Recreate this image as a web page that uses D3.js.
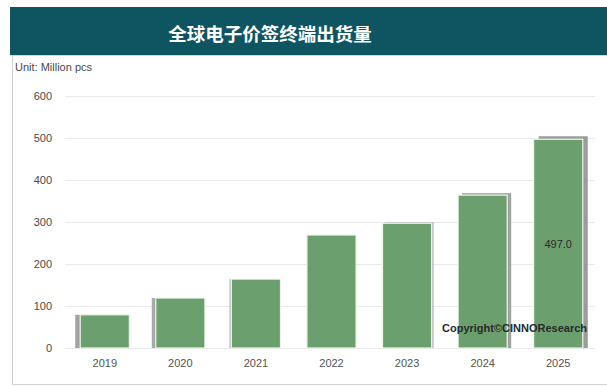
<!DOCTYPE html>
<html>
<head>
<meta charset="utf-8">
<script src="https://cdn.jsdelivr.net/npm/d3@7"></script>
<style>
  html, body { margin: 0; padding: 0; background: #ffffff; }
  svg { display: block; }
</style>
</head>
<body>
<svg id="chart" width="607" height="386"></svg>
<script>
// Global e-paper shelf label (ESL) terminal shipments, million pcs
const years = ["2019", "2020", "2021", "2022", "2023", "2024", "2025"];
const shipments = [79, 119, 164, 269, 297, 364, 497.0];
const yTicks = [0, 100, 200, 300, 400, 500, 600];
const titleText = "全球电子价签终端出货量";
const unitText = "Unit: Million pcs";
const creditText = "Copyright©CINNOResearch";
const labelledYear = "2025";

const svg = d3.select("#chart");
const W = 607, H = 386;

// card frame
svg.append("rect").attr("x", 0).attr("y", 0).attr("width", W).attr("height", H).attr("fill", "#ffffff");
svg.append("path")
  .attr("d", "M12.5,55 V384.5 H607")
  .attr("fill", "none").attr("stroke", "#d2d2d2").attr("stroke-width", 1);

// title banner
svg.append("rect").attr("x", 10).attr("y", 7).attr("width", W - 10).attr("height", 48).attr("fill", "#0e5561");
svg.append("line").attr("x1", 10).attr("x2", W).attr("y1", 55.5).attr("y2", 55.5)
  .attr("stroke", "#bfe0e3").attr("stroke-width", 1);
svg.append("text")
  .attr("x", 270).attr("y", 33)
  .attr("text-anchor", "middle").attr("dominant-baseline", "central")
  .attr("fill", "#ffffff")
  .style("font-family", "'Noto Sans CJK SC', sans-serif")
  .style("font-weight", "700").style("font-size", "18.5px")
  .text(titleText);

svg.append("text")
  .attr("x", 15).attr("y", 67).attr("dominant-baseline", "central")
  .attr("fill", "#4a4a4a")
  .style("font-family", "'Liberation Sans', Arial, sans-serif").style("font-size", "11px")
  .text(unitText);

// scales
const x = d3.scaleBand().domain(years).range([67, 596]).paddingInner(0.35).paddingOuter(0.175);
const y = d3.scaleLinear().domain([0, 600]).range([348, 96]);

// gridlines
const yAxis = d3.axisLeft(y).tickValues(yTicks).tickSize(-(595 - 65)).tickPadding(13);
const gAxis = svg.append("g").attr("transform", "translate(65,0)").call(yAxis);
gAxis.select(".domain").remove();
gAxis.selectAll(".tick line").attr("stroke", "#e9e9e9").attr("stroke-width", 1);
gAxis.selectAll(".tick text")
  .attr("fill", "#4a4a4a")
  .style("font-family", "'Liberation Sans', Arial, sans-serif").style("font-size", "11px");

// x labels
const xAxis = d3.axisBottom(x).tickSize(0).tickPadding(11);
const gx = svg.append("g").attr("transform", "translate(0,348)").call(xAxis);
gx.select(".domain").remove();
gx.selectAll(".tick text")
  .attr("fill", "#555555")
  .style("font-family", "'Liberation Sans', Arial, sans-serif").style("font-size", "11px");

// bars cast a soft side shadow that leans away from the centre of the plot
const plotMid = (x.range()[0] + x.range()[1]) / 2;
const shadowLean = 0.024;
const bars = svg.append("g");
years.forEach((yr, i) => {
  const bx = x(yr), bw = x.bandwidth();
  const top = y(shipments[i]);
  const dx = Math.round((bx + bw / 2 - plotMid) * shadowLean);
  const dy = dx > 0 ? -Math.ceil(dx / 2) : 0;
  bars.append("rect")
    .attr("x", bx + dx).attr("y", top + dy)
    .attr("width", bw).attr("height", y(0) - top - dy)
    .attr("fill", dx > 0 ? "#9b9b9b" : "#a3a3a3").attr("opacity", Math.min(1, 0.45 + Math.abs(dx) * 0.12));
  bars.append("rect")
    .attr("x", bx).attr("y", top)
    .attr("width", bw).attr("height", y(0) - top)
    .attr("fill", "#6ba06e")
    .attr("stroke", "#eef4ea").attr("stroke-width", 1.2);
});

// value label on the last bar
const li = years.indexOf(labelledYear);
svg.append("text")
  .attr("x", x(labelledYear) + x.bandwidth() / 2)
  .attr("y", (y(shipments[li]) + y(0)) / 2)
  .attr("text-anchor", "middle").attr("dominant-baseline", "central")
  .attr("fill", "#2b2b2b")
  .style("font-family", "'Liberation Sans', Arial, sans-serif").style("font-size", "11px")
  .text(shipments[li].toFixed(1));

// credit line
svg.append("text")
  .attr("x", 442).attr("y", 328).attr("dominant-baseline", "central")
  .attr("fill", "#2a2a2a")
  .style("font-family", "'Liberation Sans', Arial, sans-serif")
  .style("font-weight", "700").style("font-size", "11px")
  .text(creditText);
</script>
</body>
</html>
